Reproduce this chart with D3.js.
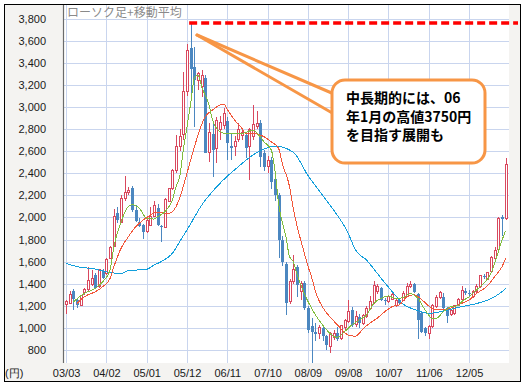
<!DOCTYPE html>
<html><head><meta charset="utf-8">
<script src="https://cdn.jsdelivr.net/npm/d3@7/dist/d3.min.js"></script>
<style>html,body{margin:0;padding:0;background:#fff;} svg{display:block;}</style>
</head><body>
<svg id="c" width="528" height="389"></svg>
<script>
// ---- DATA (monthly candles, 2003/03 .. 2013/03) ----
const firstMonth = "03/03";
const open  = [1215,1225,1330,1255,1205,1320,1345,1391,1478,1373,1514,1493,1632,1735,2042,1955,2169,2226,2262,2066,1955,1931,1871,1931,2012,2082,1922,1907,2145,2263,2420,2640,2746,3138,3536,3364,3237,3189,3259,2586,2755,2625,2800,2836,2872,2646,2640,2706,2740,2746,2640,2731,2821,2851,2580,2459,2519,2344,2203,1795,1578,1237,1418,1554,1330,1409,1177,1017,966,945,1000,925,830,915,950,905,1000,1060,1160,1030,1100,1040,1100,1180,1230,1330,1360,1255,1240,1260,1207,1252,1252,1288,1373,1394,1303,1132,996,951,1011,1192,1276,1282,1177,1123,1131,1207,1258,1334,1320,1282,1328,1373,1470,1440,1510,1629,1705,2000,1991];
const high  = [1255,1330,1350,1265,1300,1365,1554,1523,1500,1530,1530,1630,1740,2073,2097,2200,2374,2278,2280,2110,1995,1940,1985,2097,2150,2120,1930,2175,2270,2440,2746,2800,3319,3566,3750,3545,3320,3330,3290,2851,2851,2911,2920,2990,2911,2760,2740,2850,2800,2770,2810,3017,2960,2880,2610,2560,2550,2380,2220,1830,1600,1440,1660,1569,1420,1420,1200,1087,1040,1030,1010,940,965,980,1010,1030,1080,1250,1190,1150,1130,1130,1200,1290,1420,1400,1370,1270,1300,1320,1270,1275,1330,1410,1420,1410,1320,1150,1010,1030,1220,1300,1330,1320,1190,1170,1210,1270,1380,1360,1345,1340,1400,1480,1490,1510,1650,1730,2000,2020,2540];
const low   = [1130,1215,1160,1180,1195,1300,1335,1380,1350,1360,1440,1480,1620,1730,1946,1950,2150,2200,2050,1960,1910,1801,1860,1920,2000,1925,1777,1900,2135,2250,2400,2600,2700,3100,3062,2821,3150,3090,2580,2504,2368,2490,2700,2800,2519,2520,2560,2680,2700,2540,2338,2700,2800,2460,2420,2400,2260,2150,1629,1560,1117,1220,1400,1283,1250,1160,950,680,880,900,880,800,770,890,880,895,980,1040,1010,1010,1000,1030,1090,1160,1220,1310,1240,1210,1225,1250,1190,1215,1240,1280,1360,1320,896,950,930,900,1000,1180,1260,1170,1040,1110,1120,1195,1250,1300,1290,1270,1320,1365,1440,1430,1500,1620,1700,1830,1980];
const close = [1240,1300,1260,1205,1290,1350,1433,1448,1358,1524,1454,1623,1729,2006,1976,2172,2226,2247,2066,1970,1925,1868,1976,2006,2106,1931,1910,2163,2258,2420,2640,2731,3138,3506,3343,3243,3298,3286,2586,2767,2610,2881,2860,2942,2676,2625,2691,2791,2770,2625,2791,2842,2851,2550,2459,2519,2323,2203,1795,1593,1228,1418,1530,1388,1405,1177,981,966,945,1000,925,845,950,950,900,1025,1065,1150,1030,1100,1040,1110,1180,1240,1380,1375,1255,1240,1280,1300,1252,1228,1313,1373,1397,1328,1071,966,951,1011,1207,1276,1318,1177,1107,1153,1200,1258,1336,1318,1310,1328,1379,1470,1458,1500,1640,1699,1988,1985,2483];

// moving averages: [month, value]
const maShort = [["03/05",1235],["03/08",1313],["03/11",1358],["04/01",1418],["04/03",1524],["04/04",1730],["04/06",1961],["04/08",2100],["04/09",2115],["04/11",2082],["05/01",1991],["05/03",1985],["05/04",2006],["05/06",2052],["05/08",2157],["05/09",2278],["05/10",2369],["05/11",2610],["05/12",2820],["06/01",3032],["06/02",3259],["06/03",3289],["06/04",3183],["06/06",3017],["06/07",2881],["06/09",2776],["06/11",2755],["07/02",2755],["07/04",2767],["07/06",2791],["07/07",2767],["07/09",2685],["07/11",2610],["07/12",2429],["08/01",2127],["08/03",1825],["08/04",1644],["08/05",1600],["08/06",1490],["08/08",1313],["08/10",1177],["08/12",1071],["09/02",987],["09/03",950],["09/05",915],["09/07",966],["09/09",1026],["09/11",1071],["10/01",1117],["10/03",1222],["10/05",1267],["10/07",1289],["10/09",1265],["10/11",1275],["11/01",1310],["11/03",1267],["11/05",1162],["11/07",1086],["11/08",1086],["11/10",1147],["11/12",1192],["12/02",1201],["12/03",1237],["12/05",1282],["12/07",1343],["12/09",1403],["12/11",1494],["12/12",1584],["13/01",1690],["13/02",1795],["13/03",1880]];
const maMid = [["03/06",1222],["03/08",1282],["03/11",1328],["04/01",1373],["04/03",1448],["04/04",1550],["04/06",1720],["04/08",1825],["04/10",1916],["04/12",1976],["05/02",2020],["05/03",2043],["05/05",2043],["05/07",2037],["05/09",2097],["05/10",2175],["05/12",2400],["06/01",2519],["06/04",2840],["06/05",2912],["06/07",2972],["06/09",3017],["06/10",3026],["06/11",2978],["07/01",2881],["07/03",2806],["07/04",2761],["07/07",2755],["07/09",2731],["07/11",2685],["08/01",2625],["08/02",2489],["08/04",2278],["08/05",2080],["08/06",1930],["08/07",1800],["08/08",1680],["08/09",1560],["08/10",1460],["08/11",1340],["08/12",1250],["09/01",1190],["09/02",1140],["09/03",1100],["09/05",1030],["09/07",960],["09/08",935],["09/10",925],["09/12",990],["10/02",1045],["10/04",1090],["10/06",1147],["10/08",1192],["10/10",1210],["10/12",1280],["11/02",1300],["11/04",1258],["11/06",1198],["11/08",1162],["11/10",1162],["12/01",1192],["12/03",1222],["12/05",1252],["12/07",1310],["12/10",1380],["12/12",1464],["13/02",1554],["13/03",1630]];
const maLong = [["03/03",1585],["03/06",1554],["03/11",1533],["04/03",1500],["04/06",1494],["04/08",1518],["05/01",1530],["05/03",1569],["05/05",1600],["05/08",1675],["05/10",1780],["05/12",1886],["06/04",2110],["06/09",2308],["07/02",2459],["07/06",2565],["07/11",2640],["07/12",2646],["08/05",2590],["08/09",2380],["09/02",2157],["09/08",1856],["09/10",1705],["10/01",1614],["10/05",1449],["10/09",1290],["10/11",1215],["11/02",1168],["11/06",1132],["11/11",1160],["12/03",1192],["12/07",1220],["12/12",1282],["13/03",1355]];

const xTickLabels = ["03/03","04/02","05/01","05/12","06/11","07/10","08/09","09/08","10/07","11/06","12/05"];
const yTickValues = [800,1000,1200,1400,1600,1800,2000,2200,2400,2600,2800,3000,3200,3400,3600,3800];
const targetHigh = 3750;
const targetMonth = "06/01";
const titleText = "ローソク足+移動平均";
const calloutLines = ["中長期的には、06","年1月の高値3750円","を目指す展開も"];
const unitLabel = "(円)";

// ---- helpers ----
const idxOf = s => { const [yy, mm] = s.split("/").map(Number); const [y0, m0] = firstMonth.split("/").map(Number); return (yy - y0) * 12 + (mm - m0); };
const candles = open.map((o, i) => ({i, o, h: high[i], l: low[i], c: close[i]}));

// ---- layout ----
const svg = d3.select("#c");
const P = {l: 63, r: 509, t: 5, b: 363};
const x = d3.scaleLinear().domain([0, 120]).range([66.1, 505.7]);
const y = d3.scaleLinear().domain([800, 3800]).range([350, 18.5]);

svg.append("rect").attr("x", 4.5).attr("y", 4.5).attr("width", 516).attr("height", 377)
  .attr("fill", "#f4f3f1").attr("stroke", "#000").attr("stroke-width", 1);
svg.append("rect").attr("x", P.l).attr("y", P.t).attr("width", P.r - P.l).attr("height", P.b - P.t).attr("fill", "#fff");

const plot = svg.append("g");
svg.append("clipPath").attr("id", "pc").append("rect").attr("x", P.l).attr("y", P.t).attr("width", P.r - P.l).attr("height", P.b - P.t);

// grid
plot.append("g").selectAll("line").data(yTickValues).join("line")
  .attr("x1", P.l).attr("x2", P.r).attr("y1", d => Math.round(y(d)) + 0.5).attr("y2", d => Math.round(y(d)) + 0.5)
  .attr("stroke", "#c9d5ee").attr("stroke-width", 1);
plot.append("g").selectAll("line").data(xTickLabels).join("line")
  .attr("x1", d => Math.round(x(idxOf(d))) + 0.5).attr("x2", d => Math.round(x(idxOf(d))) + 0.5)
  .attr("y1", P.t).attr("y2", P.b)
  .attr("stroke", "#c9d5ee").attr("stroke-width", 1);

// axis line
svg.append("line").attr("x1", P.l + 0.5).attr("x2", P.l + 0.5).attr("y1", P.t).attr("y2", P.b)
  .attr("stroke", "#6b6b6b").attr("stroke-width", 1.2);

// y axis labels
const yAxis = svg.append("g").attr("transform", `translate(${P.l},0)`)
  .call(d3.axisLeft(y).tickValues(yTickValues).tickFormat(d3.format(",")).tickSize(0).tickPadding(17));
yAxis.select(".domain").remove();
yAxis.selectAll("text").attr("font-family", "Liberation Sans, Arial, sans-serif").attr("font-size", 11).attr("fill", "#1a1a1a");

// x axis labels
const xAxis = svg.append("g").attr("transform", `translate(0,${P.b})`)
  .call(d3.axisBottom(x).tickValues(xTickLabels.map(idxOf)).tickFormat((d, k) => xTickLabels[k]).tickSize(0).tickPadding(6));
xAxis.select(".domain").remove();
xAxis.selectAll("text").attr("font-family", "Liberation Sans, Arial, sans-serif").attr("font-size", 11).attr("fill", "#1a1a1a");

svg.append("text").attr("x", 5).attr("y", 377).text(unitLabel)
  .attr("font-family", "Liberation Sans, Arial, sans-serif").attr("font-size", 11).attr("fill", "#1a1a1a");

// candles
const UP = "#d9485e", DN = "#4b87c0";
const cg = plot.append("g").attr("clip-path", "url(#pc)");
cg.selectAll("line.w").data(candles).join("line").attr("class", "w")
  .attr("x1", d => Math.round(x(d.i)) + 0.5).attr("x2", d => Math.round(x(d.i)) + 0.5).attr("y1", d => y(d.h)).attr("y2", d => y(d.l))
  .attr("stroke", d => d.c >= d.o ? UP : DN).attr("stroke-width", 1).attr("shape-rendering", "crispEdges");
cg.selectAll("rect.b").data(candles).join("rect").attr("class", "b")
  .attr("x", d => d.c >= d.o ? Math.round(x(d.i)) - 0.5 : Math.round(x(d.i)) - 1)
  .attr("width", d => d.c >= d.o ? 2 : 3)
  .attr("y", d => y(Math.max(d.o, d.c)))
  .attr("height", d => Math.max(1, Math.abs(y(d.o) - y(d.c))))
  .attr("fill", d => d.c >= d.o ? "#fff" : DN)
  .attr("stroke", d => d.c >= d.o ? UP : "none").attr("stroke-width", 1).attr("shape-rendering", "crispEdges");

// moving averages
const line = d3.line().x(d => x(idxOf(d[0]))).y(d => y(d[1])).curve(d3.curveMonotoneX);
[[maLong, "#129fdc"], [maMid, "#f2573a"], [maShort, "#80bd3e"]].forEach(([s, col]) => {
  cg.append("path").attr("d", line(s)).attr("fill", "none").attr("stroke", col).attr("stroke-width", 1)
    .attr("shape-rendering", "crispEdges");
});

// title
svg.append("text").attr("x", 67).attr("y", 17).text(titleText)
  .attr("font-family", "Noto Sans CJK JP, sans-serif").attr("font-size", 12).attr("fill", "#8a8a8a");

// target dashed line
svg.append("line").attr("x1", x(idxOf(targetMonth)) - 1.5).attr("x2", 518)
  .attr("y1", y(targetHigh) - 1).attr("y2", y(targetHigh) - 1)
  .attr("stroke", "#ff0000").attr("stroke-width", 3.5).attr("stroke-dasharray", "8,4");

// callout
const OR = "#f79646";
const tip = [197, 35];
svg.append("line").attr("x1", tip[0]).attr("y1", tip[1]).attr("x2", 334).attr("y2", 94)
  .attr("stroke", OR).attr("stroke-width", 3).attr("stroke-linecap", "round");
svg.append("line").attr("x1", tip[0]).attr("y1", tip[1]).attr("x2", 334).attr("y2", 114)
  .attr("stroke", OR).attr("stroke-width", 3).attr("stroke-linecap", "round");
svg.append("rect").attr("x", 332).attr("y", 80).attr("width", 153).attr("height", 83).attr("rx", 13)
  .attr("fill", "#fff").attr("stroke", OR).attr("stroke-width", 3);
svg.append("g").selectAll("text").data(calloutLines).join("text")
  .attr("x", 346).attr("y", (d, k) => 103 + k * 18.7).text(d => d)
  .attr("font-family", "Noto Sans CJK JP, sans-serif").attr("font-weight", 700).attr("font-size", 14).attr("fill", "#000");
</script>
</body></html>
